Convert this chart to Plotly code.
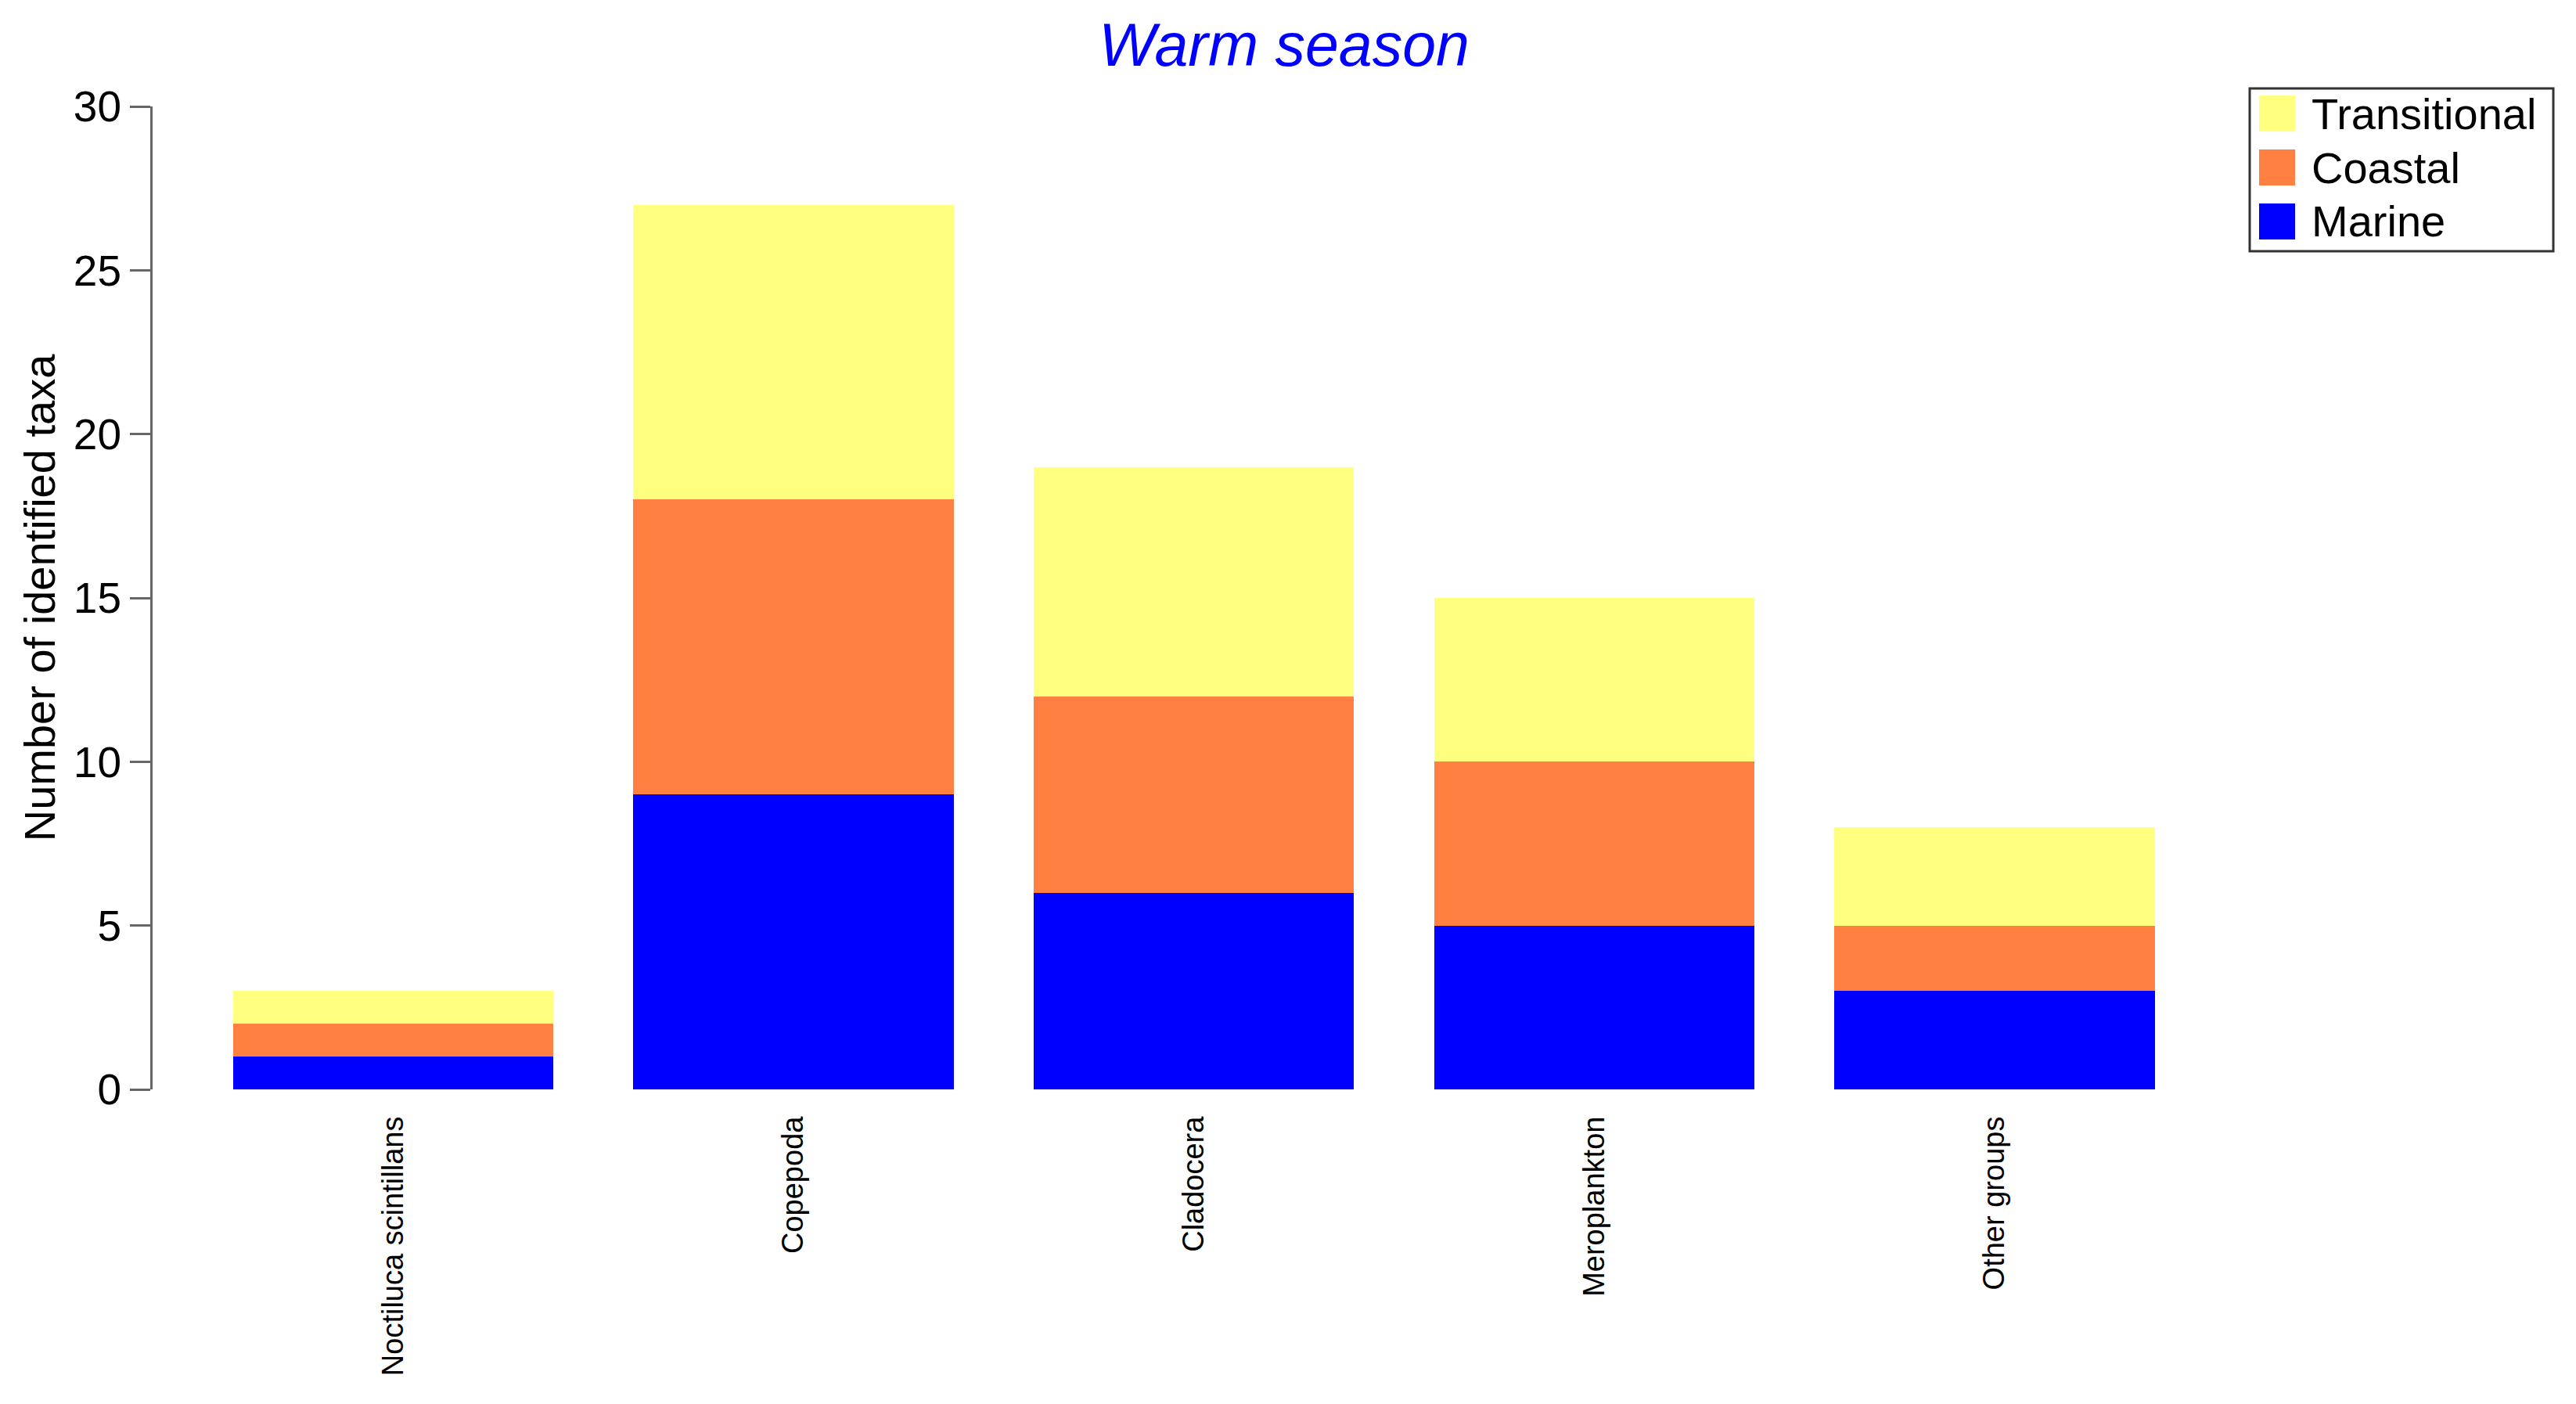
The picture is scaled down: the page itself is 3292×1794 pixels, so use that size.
import plotly.graph_objects as go

categories = ["Noctiluca scintillans", "Copepoda", "Cladocera", "Meroplankton", "Other groups"]
marine = [1, 9, 6, 5, 3]
coastal = [1, 9, 6, 5, 2]
transitional = [1, 9, 7, 5, 3]
y_ticks = [0, 5, 10, 15, 20, 25, 30]

series = [("Marine", marine, "#0000FF"),
          ("Coastal", coastal, "#FF8040"),
          ("Transitional", transitional, "#FFFF80")]

OFF = 8  # page body margin
W, H = 3292 - OFF, 1794 - OFF
L, T = 195 - OFF, 136 - OFF
PW, PH = 2661, 1256
R, B = W - L - PW, H - T - PH
FONT = "Liberation Sans, Arial, sans-serif"

def px_x(x):
    return (x - OFF - L) / PW

def px_y(y):
    return (T + PH - (y - OFF)) / PH

fig = go.Figure()
for name, vals, col in series:
    fig.add_trace(go.Bar(x=categories, y=vals, name=name, marker=dict(color=col, line=dict(width=0)),
                         showlegend=False))

# custom legend (large swatches)
shapes = [dict(type="rect", xref="paper", yref="paper",
               x0=px_x(2875), x1=px_x(3263), y0=px_y(321), y1=px_y(113),
               line=dict(color="#333333", width=3), fillcolor="rgba(0,0,0,0)")]
annotations = []
legend_rows = [("Transitional", "#FFFF80", 145), ("Coastal", "#FF8040", 214), ("Marine", "#0000FF", 283)]
for name, col, cy in legend_rows:
    shapes.append(dict(type="rect", xref="paper", yref="paper",
                       x0=px_x(2887), x1=px_x(2933), y0=px_y(cy + 23), y1=px_y(cy - 23),
                       line=dict(width=0), fillcolor=col))
    annotations.append(dict(xref="paper", yref="paper", x=px_x(2952), y=px_y(cy),
                            xanchor="left", yanchor="middle", text=name, showarrow=False,
                            font=dict(family=FONT, size=56, color="black")))

fig.update_layout(
    width=W, height=H,
    margin=dict(l=L, r=R, t=T, b=B, pad=0),
    barmode="stack", bargap=0.2,
    plot_bgcolor="white", paper_bgcolor="white",
    title=dict(text="Warm season", x=(1641 - OFF) / W, xref="container", xanchor="center",
               y=1 - (57 - OFF) / H, yref="container", yanchor="middle",
               font=dict(family=FONT, size=77, color="#0000FF", style="italic")),
    shapes=shapes, annotations=annotations,
    showlegend=False,
)
fig.update_xaxes(range=[-0.601, 4.6], showline=False, ticks="", tickangle=-90,
                 ticklabelstandoff=26, showgrid=False, zeroline=False,
                 tickfont=dict(family=FONT, size=38, color="black"))
fig.update_yaxes(range=[0, 30], tickvals=y_ticks, showline=True, linecolor="#666666", linewidth=3,
                 ticks="outside", ticklen=26, tickwidth=3, tickcolor="#666666",
                 ticklabelstandoff=0, showgrid=False, zeroline=False,
                 tickfont=dict(family=FONT, size=55, color="black"),
                 title=dict(text="Number of identified taxa", standoff=6,
                            font=dict(family=FONT, size=56, color="black")))

fig.write_html("out.html")
